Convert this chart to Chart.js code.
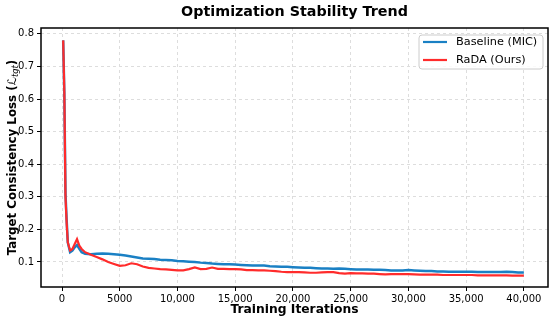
<!DOCTYPE html>
<html><head><meta charset="utf-8">
<script src="https://cdn.jsdelivr.net/npm/chart.js@4/dist/chart.umd.min.js"></script>
<style>html,body{margin:0;padding:0;background:#fff}#wrap{width:550px;height:321px}</style>
</head><body><div id="wrap"><canvas id="c" width="550" height="321"></canvas></div>
<script>
const titleText = "Optimization Stability Trend";
const xTitle = "Training Iterations";
const seriesNames = ["Baseline (MIC)", "RaDA (Ours)"];
const xTicks = [0,5000,10000,15000,20000,25000,30000,35000,40000];
const xTickLabels = ["0","5000","10,000","15,000","20,000","25,000","30,000","35,000","40,000"];
const yTicks = [0.1,0.2,0.3,0.4,0.5,0.6,0.7,0.8];
const iterations = [100,200,300,400,500,700,900,1100,1300,1500,1700,2000,2500,3000,3500,4000,4500,5000,5500,6000,6500,7000,7500,8000,8500,9000,9500,10000,10500,11000,11500,12000,12500,13000,13500,14000,14500,15000,15500,16000,16500,17000,17500,18000,18500,19000,19500,20000,20500,21000,21500,22000,22500,23000,23500,24000,24500,25000,25500,26000,26500,27000,27500,28000,28500,29000,29500,30000,30500,31000,31500,32000,32500,33000,33500,34000,34500,35000,35500,36000,36500,37000,37500,38000,38500,39000,39500,40000];
const baseline = [0.78,0.62,0.31,0.23,0.16,0.13,0.135,0.145,0.152,0.14,0.13,0.125,0.124,0.125,0.126,0.125,0.124,0.122,0.12,0.117,0.114,0.111,0.11,0.109,0.107,0.106,0.105,0.103,0.102,0.101,0.1,0.098,0.097,0.095,0.094,0.093,0.093,0.092,0.091,0.09,0.089,0.089,0.089,0.087,0.086,0.085,0.085,0.084,0.083,0.082,0.082,0.081,0.08,0.08,0.079,0.08,0.079,0.078,0.077,0.077,0.077,0.076,0.076,0.075,0.074,0.074,0.074,0.075,0.074,0.073,0.072,0.072,0.071,0.071,0.07,0.07,0.07,0.07,0.07,0.069,0.069,0.069,0.069,0.069,0.07,0.069,0.068,0.068];
const rada = [0.78,0.62,0.30,0.22,0.16,0.135,0.14,0.155,0.17,0.15,0.14,0.13,0.122,0.115,0.108,0.1,0.094,0.088,0.09,0.096,0.093,0.086,0.082,0.08,0.078,0.077,0.076,0.074,0.074,0.078,0.083,0.078,0.079,0.083,0.079,0.079,0.078,0.078,0.077,0.075,0.075,0.074,0.074,0.073,0.072,0.07,0.069,0.069,0.069,0.068,0.067,0.067,0.068,0.069,0.069,0.066,0.064,0.066,0.065,0.065,0.064,0.064,0.063,0.062,0.063,0.063,0.063,0.063,0.062,0.061,0.061,0.061,0.061,0.06,0.06,0.06,0.06,0.06,0.06,0.059,0.059,0.059,0.059,0.059,0.059,0.058,0.058,0.058];
const colors = ["#1a80c4", "#ff2b2b"];

const FONT = "'DejaVu Sans', sans-serif";
const pts = arr => iterations.map((x,i)=>({x:x,y:arr[i]}));

const decor = {
  id:'decor',
  afterDraw(chart){
    const ctx = chart.ctx, a = chart.chartArea;
    ctx.save();
    ctx.strokeStyle = '#000'; ctx.lineWidth = 1.5;
    ctx.strokeRect(a.left, a.top, a.right-a.left, a.bottom-a.top);
    ctx.fillStyle = '#000';
    ctx.font = "bold 14.3px " + FONT;
    ctx.textAlign = 'center'; ctx.textBaseline = 'middle';
    ctx.fillText(titleText, (a.left+a.right)/2, 12);
    ctx.font = "bold 12.3px " + FONT;
    ctx.fillText(xTitle, (a.left+a.right)/2, 310);
    ctx.translate(13, (a.top+a.bottom)/2);
    ctx.rotate(-Math.PI/2);
    const p1 = "Target Consistency Loss (", p2 = "\u2112", p3 = "tgt", p4 = ")";
    const f1 = "bold 11.8px " + FONT, f2 = "italic 11.8px " + FONT, f3 = "italic 8.3px " + FONT;
    ctx.font = f1; const w1 = ctx.measureText(p1).width, w4 = ctx.measureText(p4).width;
    ctx.font = f2; const w2 = ctx.measureText(p2).width;
    ctx.font = f3; const w3 = ctx.measureText(p3).width;
    let x = -(w1+w2+w3+w4)/2;
    ctx.textAlign = 'left';
    ctx.font = f1; ctx.fillText(p1, x, 0); x += w1;
    ctx.font = f2; ctx.fillText(p2, x, 0); x += w2;
    ctx.font = f3; ctx.fillText(p3, x, 3); x += w3;
    ctx.font = f1; ctx.fillText(p4, x, 0);
    ctx.restore();
    ctx.save();
    const lx = 419, ly = 35, lw = 124, lh = 34;
    ctx.fillStyle = 'rgba(255,255,255,0.85)';
    ctx.strokeStyle = '#cccccc'; ctx.lineWidth = 1;
    ctx.beginPath();
    if (ctx.roundRect) ctx.roundRect(lx, ly, lw, lh, 3); else ctx.rect(lx, ly, lw, lh);
    ctx.fill(); ctx.stroke();
    ctx.font = "11.3px " + FONT; ctx.textBaseline = 'middle'; ctx.textAlign = 'left';
    seriesNames.forEach((n,i)=>{
      const yy = ly + 7 + i*18;
      ctx.strokeStyle = colors[i]; ctx.lineWidth = 2.2;
      ctx.beginPath(); ctx.moveTo(lx+4, yy); ctx.lineTo(lx+28, yy); ctx.stroke();
      ctx.fillStyle = '#000'; ctx.fillText(n, lx+37, yy);
    });
    ctx.restore();
  }
};

new Chart(document.getElementById('c'), {
  type:'line',
  data:{datasets:[
    {label:seriesNames[1], data:pts(rada), borderColor:colors[1], borderWidth:2.2, pointRadius:0, tension:0},
    {label:seriesNames[0], data:pts(baseline), borderColor:colors[0], borderWidth:2.5, pointRadius:0, tension:0}
  ]},
  options:{
    responsive:false, animation:false,
    layout:{padding:{top:28, right:2, left:0, bottom:0}},
    plugins:{legend:{display:false}, tooltip:{enabled:false}},
    scales:{
      x:{type:'linear', min:-1820, max:42090,
        afterBuildTicks(s){ s.ticks = xTicks.map(v=>({value:v})); },
        afterFit(s){ s.height = 34; },
        grid:{color:'#dddddd', tickLength:4, tickColor:'#000'},
        border:{display:false, dash:[3,3]},
        ticks:{font:{family:FONT, size:10}, color:'#000', padding:2, maxRotation:0,
          callback:(v)=>{ const i = xTicks.indexOf(v); return i>=0 ? xTickLabels[i] : ''; }}
      },
      y:{type:'linear', min:0.0232, max:0.818,
        afterBuildTicks(s){ s.ticks = yTicks.map(v=>({value:v})); },
        afterFit(s){ s.width = 41; },
        grid:{color:'#dddddd', tickLength:4, tickColor:'#000'},
        border:{display:false, dash:[3,3]},
        ticks:{font:{family:FONT, size:10}, color:'#000', padding:3, callback:v=>v.toFixed(1)}
      }
    }
  },
  plugins:[decor]
});
</script></body></html>
